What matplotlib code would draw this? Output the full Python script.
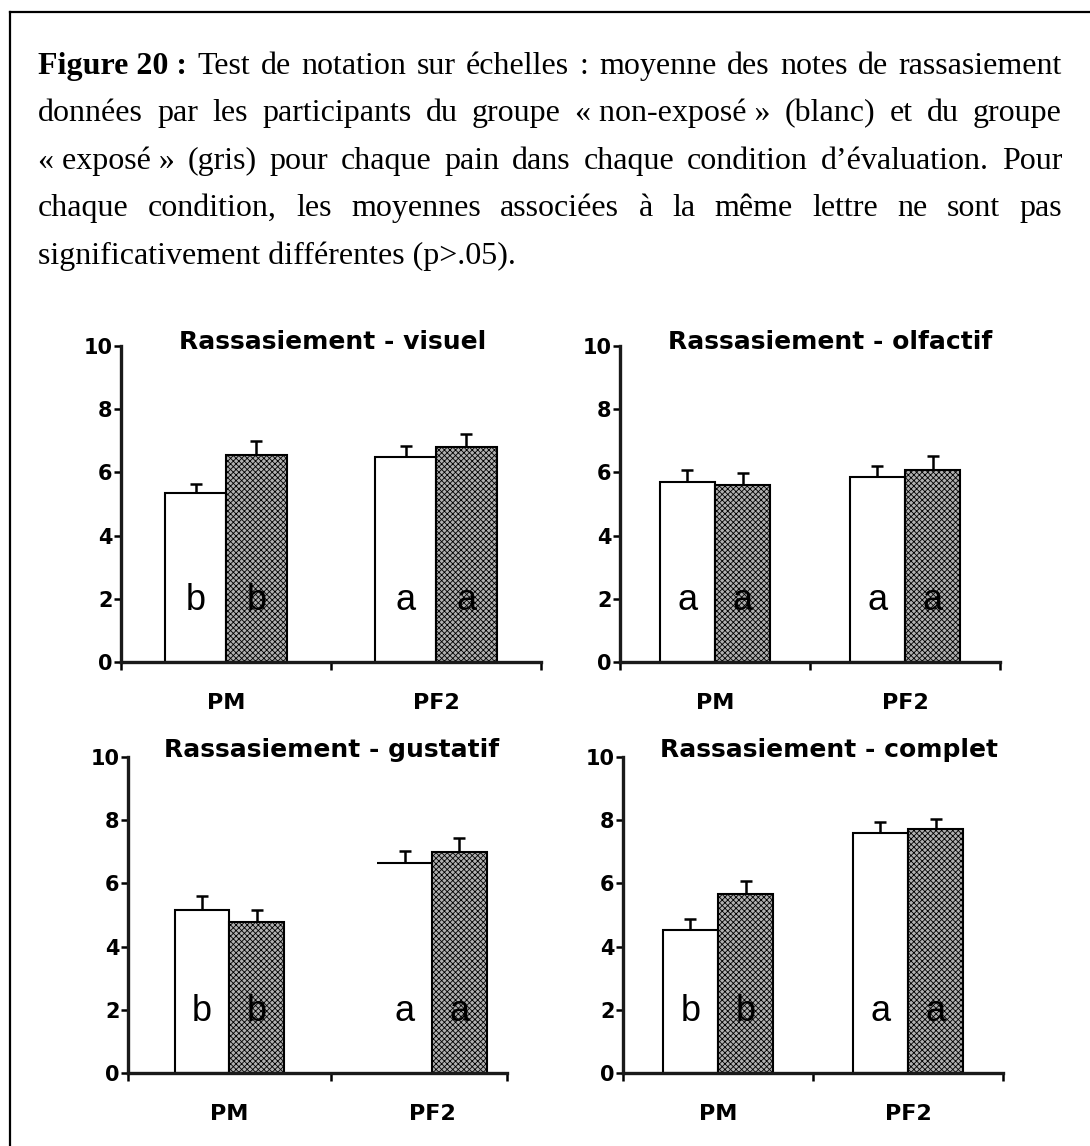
import matplotlib
matplotlib.use("Agg")
import matplotlib.pyplot as plt
import numpy as np

plt.rcParams['hatch.linewidth'] = 0.6
plt.rcParams['hatch.color'] = '#2a2a2a'

# ---------------- data ----------------
pains = ["PM", "PF2"]
titles = ["Rassasiement - visuel", "Rassasiement - olfactif",
          "Rassasiement - gustatif", "Rassasiement - complet"]

non_expose_visuel = [5.34, 6.49]
non_expose_visuel_err = [0.29, 0.35]
expose_visuel = [6.55, 6.81]
expose_visuel_err = [0.45, 0.40]
lettres_visuel = ["b", "a"]

non_expose_olfactif = [5.70, 5.84]
non_expose_olfactif_err = [0.37, 0.36]
expose_olfactif = [5.59, 6.07]
expose_olfactif_err = [0.38, 0.46]
lettres_olfactif = ["a", "a"]

non_expose_gustatif = [5.17, 6.66]
non_expose_gustatif_err = [0.42, 0.35]
expose_gustatif = [4.77, 7.00]
expose_gustatif_err = [0.40, 0.44]
lettres_gustatif = ["b", "a"]

non_expose_complet = [4.53, 7.60]
non_expose_complet_err = [0.35, 0.33]
expose_complet = [5.65, 7.72]
expose_complet_err = [0.44, 0.32]
lettres_complet = ["b", "a"]

y_ticks = [0, 2, 4, 6, 8, 10]

caption_lines = [
    [("Figure 20 :", True), ("Test", False), ("de", False), ("notation", False), ("sur", False),
     ("échelles", False), (":", False), ("moyenne", False), ("des", False), ("notes", False),
     ("de", False), ("rassasiement", False)],
    "données par les participants du groupe «\u00a0non-exposé\u00a0» (blanc) et du groupe",
    "«\u00a0exposé\u00a0» (gris) pour chaque pain dans chaque condition d’évaluation. Pour",
    "chaque condition, les moyennes associées à la même lettre ne sont pas",
    "significativement différentes (p>.05).",
]

panels = [
    (non_expose_visuel, non_expose_visuel_err, expose_visuel, expose_visuel_err, lettres_visuel),
    (non_expose_olfactif, non_expose_olfactif_err, expose_olfactif, expose_olfactif_err, lettres_olfactif),
    (non_expose_gustatif, non_expose_gustatif_err, expose_gustatif, expose_gustatif_err, lettres_gustatif),
    (non_expose_complet, non_expose_complet_err, expose_complet, expose_complet_err, lettres_complet),
]

# ---------------- layout ----------------
W, H = 1090, 1146
fig = plt.figure(figsize=(W / 100, H / 100), dpi=100)

def px_axes(left, right, y0, y10):
    return fig.add_axes([left / W, (H - y0) / H, (right - left) / W, (y0 - y10) / H])

axes_px = [(121, 541, 662, 346), (620, 1000, 662, 346),
           (128, 507, 1073, 757), (623, 1003, 1073, 757)]
x_right = [1.5, 1.5, 1.37, 1.5]
bar_widths = [0.29, 0.29, 0.27, 0.29]
title_px = [(333, 349), (830, 349), (332, 757), (829, 757)]

for i, ((w, we, g, ge, lets), (l, r, y0, y10)) in enumerate(zip(panels, axes_px)):
    ax = px_axes(l, r, y0, y10)
    bw = bar_widths[i]
    x = np.arange(len(pains))
    if i == 2:
        # white PF2 bar in gustatif panel drawn without side outline
        bars_w = ax.bar(x - bw / 2, w, width=bw, color="white", edgecolor="black", linewidth=1.5, zorder=2)
        bars_w[1].set_edgecolor("none")
        ax.hlines(w[1], x[1] - bw, x[1], color="black", linewidth=1.5, zorder=3)
    else:
        ax.bar(x - bw / 2, w, width=bw, color="white", edgecolor="black", linewidth=1.5, zorder=2)
    ax.bar(x + bw / 2, g, width=bw, color="#b0b0b0", edgecolor="black", linewidth=1.5,
           hatch="xxxxxx", zorder=2)
    ax.errorbar(x - bw / 2, w, yerr=[np.zeros(len(w)), we], fmt="none", ecolor="black",
                elinewidth=1.8, capsize=4, capthick=1.8, zorder=1)
    ax.errorbar(x + bw / 2, g, yerr=[np.zeros(len(g)), ge], fmt="none", ecolor="black",
                elinewidth=1.8, capsize=4, capthick=1.8, zorder=1)
    for xi, lt in zip(x, lets):
        for off in (-bw / 2, bw / 2):
            ax.text(xi + off, 1.65, lt, ha="center", va="baseline", fontsize=26,
                    family="Liberation Sans", color="black", zorder=4)
    ax.set_xlim(-0.5, x_right[i])
    ax.set_ylim(0, 10)
    ax.set_yticks(y_ticks)
    ax.set_yticklabels([str(t) for t in y_ticks], fontsize=15, fontweight="bold",
                       family="DejaVu Sans")
    ax.set_xticks([-0.5, 0.5, x_right[i]])
    ax.set_xticklabels([])
    ax.set_xticks(x, minor=True)
    ax.set_xticklabels(pains, minor=True, fontsize=16, fontweight="bold", family="DejaVu Sans")
    ax.tick_params(axis="x", which="major", direction="out", length=6, width=1.8)
    ax.tick_params(axis="x", which="minor", length=0, pad=22)
    ax.tick_params(axis="y", direction="out", length=5, width=1.8, pad=1)
    for s in ("top", "right"):
        ax.spines[s].set_visible(False)
    for s in ("left", "bottom"):
        ax.spines[s].set_linewidth(2.4)
        ax.spines[s].set_color("#1a1a1a")
    ax.set_facecolor("none")
    tx, ty = title_px[i]
    fig.text(tx / W, (H - ty) / H, titles[i], ha="center", va="baseline",
             fontsize=18, fontweight="bold", family="DejaVu Sans")

# ---------------- caption ----------------
fs = 23
left_px, right_px = 38, 1062
baselines = [74, 121, 169, 216, 264]
renderer = fig.canvas.get_renderer()
for li, line in enumerate(caption_lines):
    if isinstance(line, str):
        tokens = [(t, False) for t in line.split(" ")]
    else:
        tokens = line
    yb = (H - baselines[li]) / H
    if li == len(caption_lines) - 1:
        fig.text(left_px / W, yb, " ".join(t for t, _ in tokens), ha="left", va="baseline",
                 fontsize=fs, family="Liberation Serif")
        continue
    objs = []
    for t, b in tokens:
        objs.append(fig.text(0, yb, t, ha="left", va="baseline", fontsize=fs,
                             family="Liberation Serif", fontweight="bold" if b else "normal"))
    widths = [o.get_window_extent(renderer).width for o in objs]
    gap = (right_px - left_px - sum(widths)) / (len(objs) - 1)
    xcur = left_px
    for o, wdt in zip(objs, widths):
        o.set_x(xcur / W)
        xcur += wdt + gap

# outer frame lines (top and left)
fig.add_artist(plt.Line2D([10 / W, 1.0], [(H - 12) / H, (H - 12) / H], color="black", lw=1.6))
fig.add_artist(plt.Line2D([10 / W, 10 / W], [0, (H - 12) / H], color="black", lw=1.6))

fig.savefig("out.png", dpi=100)
